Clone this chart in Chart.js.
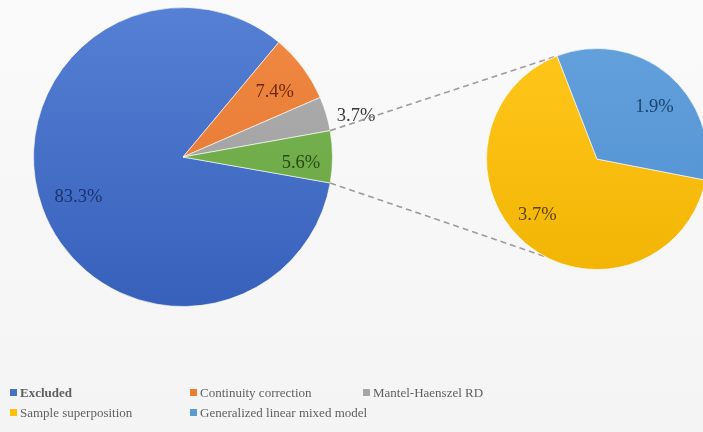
<!DOCTYPE html>
<html>
<head>
<meta charset="utf-8">
<script src="https://cdn.jsdelivr.net/npm/chart.js@4/dist/chart.umd.min.js"></script>
<style>
  html, body { margin: 0; padding: 0; overflow: hidden; background: #f7f7f7; }
  #wrap { position: relative; width: 703px; height: 432px; overflow: hidden;
          background: linear-gradient(#fafafa, #f4f4f4); }
  #wrap canvas { position: absolute; left: 0; top: 0; }
  #legend { position: absolute; left: 0; top: 385px; width: 703px;
            font-family: "Liberation Serif", "Times New Roman", serif; font-size: 13px; color: #5f5f5f; }
  .item { position: absolute; white-space: nowrap; }
  .item span.box { display: inline-block; width: 7px; height: 7px; margin-right: 3px; vertical-align: 1px; }
</style>
</head>
<body>
<div id="wrap">
  <canvas id="mainPie" width="720" height="432"></canvas>
  <canvas id="subPie" width="720" height="432"></canvas>
  <div id="legend"></div>
</div>
<script>
// main pie: the last slice is the "other" share split out in the small pie
var mainLabels = ["Excluded", "Continuity correction", "Mantel-Haenszel RD", "Other"];
var mainValues = [83.3, 7.4, 3.7, 5.6];
var subLabels = ["Sample superposition", "Generalized linear mixed model"];
var subValues = [3.7, 1.9];

var mainTop = ["#5580d4", "#f08a44", "#b0b0b0", "#7cb856"];
var mainBottom = ["#3760bb", "#e2722a", "#9a9a9a", "#66a23f"];
var mainText = ["#1a3370", "#70280a", "#3a3a3a", "#274a12"];
var subTop = ["#ffc61a", "#62a0dc"];
var subBottom = ["#f2b505", "#5090d0"];
var subText = ["#5e4500", "#1a4470"];

var serif = "'Liberation Serif', 'Times New Roman', serif";

function shade(tops, bottoms) {
  return function(ctx) {
    var area = ctx.chart.chartArea;
    if (!area) return tops[ctx.dataIndex];
    var g = ctx.chart.ctx.createLinearGradient(0, area.top, 0, area.bottom);
    g.addColorStop(0, tops[ctx.dataIndex]);
    g.addColorStop(1, bottoms[ctx.dataIndex]);
    return g;
  };
}

// percentage labels placed along each slice's middle angle
function labelPlugin(values, colors, radial) {
  return {
    id: "pctLabels",
    afterDatasetsDraw: function(chart) {
      var c = chart.ctx;
      var arcs = chart.getDatasetMeta(0).data;
      c.save();
      c.font = "18.5px " + serif;
      c.textAlign = "center";
      c.textBaseline = "middle";
      arcs.forEach(function(a, i) {
        var mid = (a.startAngle + a.endAngle) / 2 + (radial[i][1] || 0);
        var r = a.outerRadius * radial[i][0];
        c.fillStyle = colors[i];
        c.fillText(values[i].toFixed(1) + "%", a.x + Math.cos(mid) * r, a.y + Math.sin(mid) * r);
      });
      c.restore();
    }
  };
}

var mainChart = new Chart(document.getElementById("mainPie"), {
  type: "pie",
  data: {
    labels: mainLabels,
    datasets: [{
      data: mainValues,
      backgroundColor: shade(mainTop, mainBottom),
      borderColor: "rgba(255,255,255,0.6)",
      borderWidth: 1
    }]
  },
  options: {
    responsive: false,
    animation: false,
    rotation: 100,
    layout: { padding: { left: 33, top: 7, right: 387, bottom: 125 } },
    plugins: { legend: { display: false }, tooltip: { enabled: false } }
  },
  plugins: [labelPlugin(mainValues, mainText, [[0.75, -0.02], [0.75, 0.03], [1.19, 0.06], [0.79, 0.05]])]
});

// dashed connectors from the "other" slice to the small pie
var connectors = {
  id: "connectors",
  beforeDatasetsDraw: function(chart) {
    var other = mainChart.getDatasetMeta(0).data[3];
    var sub = chart.getDatasetMeta(0).data[0];
    var up = -110 * Math.PI / 180, down = 118 * Math.PI / 180;
    var c = chart.ctx;
    c.save();
    c.strokeStyle = "#9c9c9c";
    c.lineWidth = 1.6;
    c.setLineDash([6, 4]);
    c.beginPath();
    c.moveTo(other.x + Math.cos(other.startAngle) * other.outerRadius, other.y + Math.sin(other.startAngle) * other.outerRadius);
    c.lineTo(sub.x + Math.cos(up) * sub.outerRadius, sub.y + Math.sin(up) * sub.outerRadius);
    c.moveTo(other.x + Math.cos(other.endAngle) * other.outerRadius, other.y + Math.sin(other.endAngle) * other.outerRadius);
    c.lineTo(sub.x + Math.cos(down) * sub.outerRadius, sub.y + Math.sin(down) * sub.outerRadius);
    c.stroke();
    c.restore();
  }
};

new Chart(document.getElementById("subPie"), {
  type: "pie",
  data: {
    labels: subLabels,
    datasets: [{
      data: subValues,
      backgroundColor: shade(subTop, subBottom),
      borderColor: "rgba(255,255,255,0.6)",
      borderWidth: 1
    }]
  },
  options: {
    responsive: false,
    animation: false,
    rotation: 101,
    layout: { padding: { left: 486, top: 48, right: 12, bottom: 162 } },
    plugins: { legend: { display: false }, tooltip: { enabled: false } }
  },
  plugins: [connectors, labelPlugin(subValues, subText, [[0.74, 0.12], [0.7, 0.14]])]
});

// legend laid out in columns
var legendNames = ["Excluded", "Continuity correction", "Mantel-Haenszel RD", "Sample superposition", "Generalized linear mixed model"];
var legendColors = ["#4472c4", "#ed7d31", "#a5a5a5", "#ffc000", "#5b9bd5"];
var legendCols = [10, 190, 363];
var legend = document.getElementById("legend");
legendNames.forEach(function(name, i) {
  var d = document.createElement("div");
  d.className = "item";
  d.style.left = legendCols[i % 3] + "px";
  d.style.top = Math.floor(i / 3) * 20 + "px";
  if (i === 0) d.style.fontWeight = "bold";
  d.innerHTML = '<span class="box" style="background:' + legendColors[i] + '"></span>' + name;
  legend.appendChild(d);
});
</script>
</body>
</html>
